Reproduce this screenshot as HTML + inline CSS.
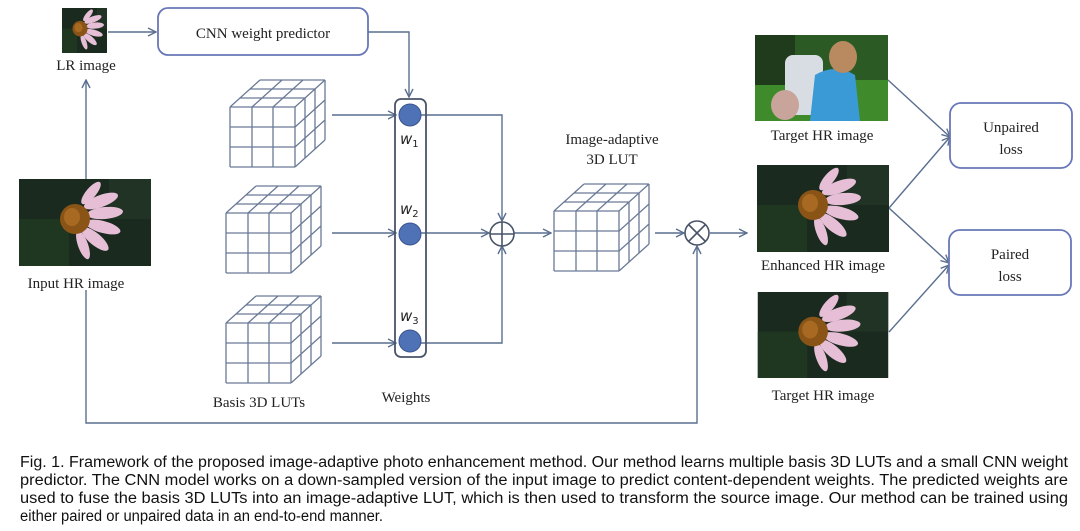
<!DOCTYPE html>
<html><head><meta charset="utf-8"><style>
html,body{margin:0;padding:0;background:#fff;}
svg{display:block;}
.s{font-family:"Liberation Serif",serif;font-size:15px;fill:#222;}
.c{font-family:"Liberation Sans",sans-serif;font-size:15.5px;fill:#111;}
</style></head><body>
<svg width="1080" height="531" viewBox="0 0 1080 531" xmlns="http://www.w3.org/2000/svg">
<defs>
<marker id="a" markerWidth="10" markerHeight="10" refX="9" refY="5" orient="auto" markerUnits="userSpaceOnUse">
<path d="M1,1 L9,5 L1,9" fill="none" stroke="#5a6f8f" stroke-width="1.4"/></marker>
<g id="cube" stroke="#6a7a96" stroke-width="1.3" fill="none">
<path d="M0,27V87M22,27V87M43,27V87M65,27V87M0,27H65M0,47H65M0,67H65M0,87H65"/>
<path d="M0,27L30,0M22,27L52,0M43,27L73,0M65,27L95,0M10,18H75M20,9H85M30,0H95"/>
<path d="M65,47L95,20M65,67L95,40M65,87L95,60M75,18V78M85,9V69M95,0V60"/>
</g>
<g id="flower">
<rect width="132" height="87" fill="#1b2a1f"/>
<rect x="0" y="40" width="50" height="47" fill="#213a22" opacity=".8"/>
<rect x="90" y="0" width="42" height="40" fill="#243826" opacity=".7"/>
<g fill="#e6bfd6">
<ellipse cx="82" cy="22" rx="18" ry="6" transform="rotate(-20 82 22)"/>
<ellipse cx="86" cy="34" rx="18" ry="6" transform="rotate(-5 86 34)"/>
<ellipse cx="84" cy="48" rx="18" ry="6" transform="rotate(15 84 48)"/>
<ellipse cx="76" cy="60" rx="17" ry="6" transform="rotate(40 76 60)"/>
<ellipse cx="64" cy="66" rx="15" ry="5" transform="rotate(70 64 66)"/>
<ellipse cx="72" cy="14" rx="14" ry="5" transform="rotate(-50 72 14)"/>
</g>
<ellipse cx="56" cy="40" rx="15" ry="15" fill="#8a5416"/>
<ellipse cx="53" cy="38" rx="8" ry="9" fill="#a86a22"/>
</g>
</defs>

<svg x="62" y="8" width="45" height="45" viewBox="20 0 90 87" preserveAspectRatio="none"><use href="#flower"/></svg>
<text class="s" x="86" y="70" text-anchor="middle">LR image</text>
<rect x="158" y="8" width="210" height="47" rx="10" fill="#fff" stroke="#6877b8" stroke-width="1.8"/>
<text class="s" x="263" y="38" text-anchor="middle">CNN weight predictor</text>
<g stroke="#5a6f8f" stroke-width="1.4" fill="none">
<line x1="108" y1="32" x2="156" y2="32" marker-end="url(#a)"/>
<polyline points="368,32 409,32 409,97" marker-end="url(#a)"/>
<line x1="86" y1="179" x2="86" y2="80" marker-end="url(#a)"/>
<polyline points="86,290 86,423 697,423 697,246" marker-end="url(#a)"/>
<line x1="332" y1="115" x2="396" y2="115" marker-end="url(#a)"/>
<line x1="332" y1="233" x2="396" y2="233" marker-end="url(#a)"/>
<line x1="332" y1="343" x2="396" y2="343" marker-end="url(#a)"/>
<polyline points="421,115 502,115 502,221" marker-end="url(#a)"/>
<line x1="421" y1="233" x2="489" y2="233" marker-end="url(#a)"/>
<polyline points="421,343 502,343 502,246" marker-end="url(#a)"/>
<line x1="514" y1="233" x2="551" y2="233" marker-end="url(#a)"/>
<line x1="655" y1="233" x2="684" y2="233" marker-end="url(#a)"/>
<line x1="710" y1="233" x2="747" y2="233" marker-end="url(#a)"/>
<line x1="888" y1="80" x2="950" y2="137" marker-end="url(#a)"/>
<line x1="889" y1="208" x2="950" y2="137" marker-end="url(#a)"/>
<line x1="889" y1="208" x2="949" y2="263" marker-end="url(#a)"/>
<line x1="889" y1="332" x2="949" y2="265" marker-end="url(#a)"/>
</g>
<svg x="19" y="179" width="132" height="87" viewBox="0 0 132 87"><use href="#flower"/></svg>
<text class="s" x="76" y="288" text-anchor="middle">Input HR image</text>
<use href="#cube" transform="translate(230,80)"/>
<use href="#cube" transform="translate(226,186)"/>
<use href="#cube" transform="translate(226,296)"/>
<use href="#cube" transform="translate(554,184)"/>
<text class="s" x="259" y="407" text-anchor="middle">Basis 3D LUTs</text>
<rect x="395" y="99" width="31" height="258" rx="6" fill="none" stroke="#4a5468" stroke-width="1.8"/>
<g fill="#4f72b6" stroke="#3a5590" stroke-width="1">
<circle cx="410" cy="115" r="11"/><circle cx="410" cy="234" r="11"/><circle cx="410" cy="341" r="11"/></g>
<g font-family="DejaVu Sans,sans-serif" font-style="italic" font-size="15" fill="#222">
<text x="400" y="144">w<tspan font-size="10" font-style="normal" dy="3">1</tspan></text>
<text x="400" y="214">w<tspan font-size="10" font-style="normal" dy="3">2</tspan></text>
<text x="400" y="321">w<tspan font-size="10" font-style="normal" dy="3">3</tspan></text>
</g>
<text class="s" x="406" y="402" text-anchor="middle">Weights</text>
<g stroke="#4a5468" stroke-width="1.6" fill="none">
<circle cx="502" cy="234" r="12"/><path d="M490,234H514M502,222V246"/>
<circle cx="697" cy="233" r="12"/><path d="M688.5,224.5L705.5,241.5M705.5,224.5L688.5,241.5"/>
</g>
<text class="s" x="612" y="144" text-anchor="middle">Image-adaptive</text>
<text class="s" x="612" y="164" text-anchor="middle">3D LUT</text>
<svg x="755" y="35" width="133" height="86" viewBox="0 0 133 86">
<rect width="133" height="86" fill="#2c5a24"/>
<rect x="0" y="45" width="133" height="41" fill="#3f8a2a"/>
<rect x="0" y="0" width="40" height="50" fill="#1f3b1c"/>
<rect x="30" y="20" width="38" height="60" rx="8" fill="#d8dde4"/>
<path d="M60,40 Q80,28 100,40 L105,86 L55,86 Z" fill="#3a9ad6"/>
<ellipse cx="88" cy="22" rx="14" ry="16" fill="#b98a60"/>
<ellipse cx="30" cy="70" rx="14" ry="15" fill="#c8a49a"/>
</svg>
<text class="s" x="822" y="140" text-anchor="middle">Target HR image</text>
<svg x="757" y="165" width="132" height="87" viewBox="0 0 132 87"><use href="#flower"/></svg>
<text class="s" x="823" y="270" text-anchor="middle">Enhanced HR image</text>
<svg x="757" y="292" width="132" height="86" viewBox="0 0 132 87"><use href="#flower"/></svg>
<text class="s" x="823" y="400" text-anchor="middle">Target HR image</text>
<rect x="950" y="103" width="122" height="65" rx="11" fill="#fff" stroke="#6877b8" stroke-width="1.8"/>
<text class="s" x="1011" y="132" text-anchor="middle">Unpaired</text>
<text class="s" x="1011" y="154" text-anchor="middle">loss</text>
<rect x="949" y="230" width="122" height="65" rx="11" fill="#fff" stroke="#6877b8" stroke-width="1.8"/>
<text class="s" x="1010" y="259" text-anchor="middle">Paired</text>
<text class="s" x="1010" y="281" text-anchor="middle">loss</text>
<text class="c" x="20" y="467" textLength="1048" lengthAdjust="spacingAndGlyphs">Fig. 1. Framework of the proposed image-adaptive photo enhancement method. Our method learns multiple basis 3D LUTs and a small CNN weight</text>
<text class="c" x="20" y="485" textLength="1048" lengthAdjust="spacingAndGlyphs">predictor. The CNN model works on a down-sampled version of the input image to predict content-dependent weights. The predicted weights are</text>
<text class="c" x="20" y="503" textLength="1048" lengthAdjust="spacingAndGlyphs">used to fuse the basis 3D LUTs into an image-adaptive LUT, which is then used to transform the source image. Our method can be trained using</text>
<text class="c" x="20" y="521" textLength="363" lengthAdjust="spacingAndGlyphs">either paired or unpaired data in an end-to-end manner.</text>
</svg>
</body></html>
